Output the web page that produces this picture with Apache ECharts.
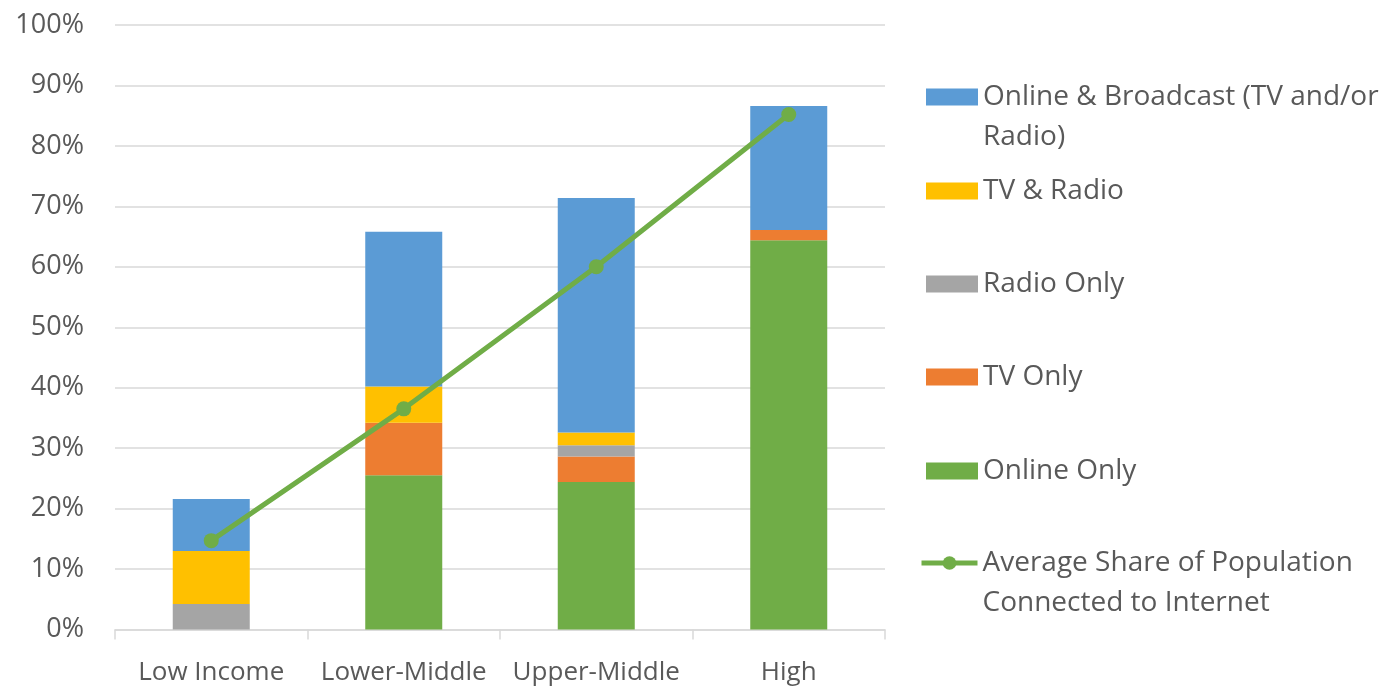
<!DOCTYPE html>
<html>
<head>
<meta charset="utf-8">
<script src="https://cdn.jsdelivr.net/npm/echarts@6/dist/echarts.min.js"></script>
<style>
  html, body { margin: 0; padding: 0; background: #fff; }
  #chart { width: 1386px; height: 688px; }
</style>
</head>
<body>
<div id="chart"></div>
<script>
// income groups
var categories = ['Low Income', 'Lower-Middle', 'Upper-Middle', 'High'];

// stacked shares, in percent (bottom to top)
var onlineOnly = [0, 25.5, 24.4, 64.4];
var tvOnly = [0, 8.7, 4.2, 1.7];
var radioOnly = [4.2, 0, 1.9, 0];
var tvAndRadio = [8.8, 6.0, 2.1, 0];
var onlineAndBroadcast = [8.6, 25.6, 38.8, 20.5];

// line: average share connected to internet
var avgConnected = [14.7, 36.5, 60.0, 85.2];

var yTicks = { min: 0, max: 100, interval: 10 };

var textColor = '#595959';
var fontFamily = '"Open Sans", sans-serif';

var names = {
    broadcast: 'Online & Broadcast (TV and/or Radio)',
    tvRadio: 'TV & Radio',
    radio: 'Radio Only',
    tv: 'TV Only',
    online: 'Online Only',
    avg: 'Average Share of Population Connected to Internet'
};

// wrapped legend labels (leading blank line keeps first line level with icon)
var legendText = {};
legendText[names.broadcast] = ' \nOnline & Broadcast (TV and/or\nRadio)';
legendText[names.avg] = ' \nAverage Share of Population\nConnected to Internet';

document.addEventListener('DOMContentLoaded', function() {
    var chart = echarts.init(document.getElementById('chart'));

    function makeLegend(name, centerY, twoLines, isLine) {
        var lg = {
            data: [name],
            left: isLine ? 919 : 926,
            top: centerY - (twoLines ? 60 : 20),
            padding: 0,
            itemWidth: isLine ? 56 : 52,
            itemHeight: 17,
            itemGap: 0,
            selectedMode: false,
            formatter: function(n) { return legendText[n] || n; },
            textStyle: {
                color: textColor,
                fontFamily: fontFamily,
                fontSize: 28,
                lineHeight: 40
            }
        };
        if (isLine) {
            lg.lineStyle = { width: 5 };
        } else {
            lg.icon = 'rect';
        }
        return lg;
    }

    var option = {
        animation: false,
        backgroundColor: '#ffffff',
        grid: {
            left: 115,
            right: 501,
            top: 25,
            bottom: 58.5
        },
        legend: [
            makeLegend(names.broadcast, 97, true, false),
            makeLegend(names.tvRadio, 191, false, false),
            makeLegend(names.radio, 284, false, false),
            makeLegend(names.tv, 377, false, false),
            makeLegend(names.online, 471, false, false),
            makeLegend(names.avg, 563, true, true)
        ],
        xAxis: {
            type: 'category',
            data: categories,
            axisLine: { lineStyle: { color: '#d9d9d9', width: 1.5 } },
            axisTick: { show: true, interval: 0, length: 10, lineStyle: { color: '#d9d9d9', width: 1.5 } },
            axisLabel: {
                color: textColor,
                fontFamily: fontFamily,
                fontSize: 26,
                margin: 30,
                interval: 0,
                hideOverlap: false
            }
        },
        yAxis: {
            type: 'value',
            min: yTicks.min,
            max: yTicks.max,
            interval: yTicks.interval,
            axisLine: { show: false },
            axisTick: { show: false },
            splitLine: { lineStyle: { color: '#d9d9d9', width: 1.5 } },
            axisLabel: {
                color: textColor,
                fontFamily: fontFamily,
                fontSize: 27,
                margin: 31,
                formatter: '{value}%'
            }
        },
        series: [
            {
                name: names.online,
                type: 'bar',
                stack: 'total',
                barWidth: 77,
                data: onlineOnly,
                itemStyle: { color: '#70ad47' }
            },
            {
                name: names.tv,
                type: 'bar',
                stack: 'total',
                data: tvOnly,
                itemStyle: { color: '#ed7d31' }
            },
            {
                name: names.radio,
                type: 'bar',
                stack: 'total',
                data: radioOnly,
                itemStyle: { color: '#a5a5a5' }
            },
            {
                name: names.tvRadio,
                type: 'bar',
                stack: 'total',
                data: tvAndRadio,
                itemStyle: { color: '#ffc000' }
            },
            {
                name: names.broadcast,
                type: 'bar',
                stack: 'total',
                data: onlineAndBroadcast,
                itemStyle: { color: '#5b9bd5' }
            },
            {
                name: names.avg,
                type: 'line',
                data: avgConnected,
                symbol: 'circle',
                symbolSize: 15,
                lineStyle: { color: '#70ad47', width: 5 },
                itemStyle: { color: '#70ad47' },
                z: 5
            }
        ]
    };

    chart.setOption(option);

    window.addEventListener('resize', function() {
        chart.resize();
    });
});
</script>
</body>
</html>
